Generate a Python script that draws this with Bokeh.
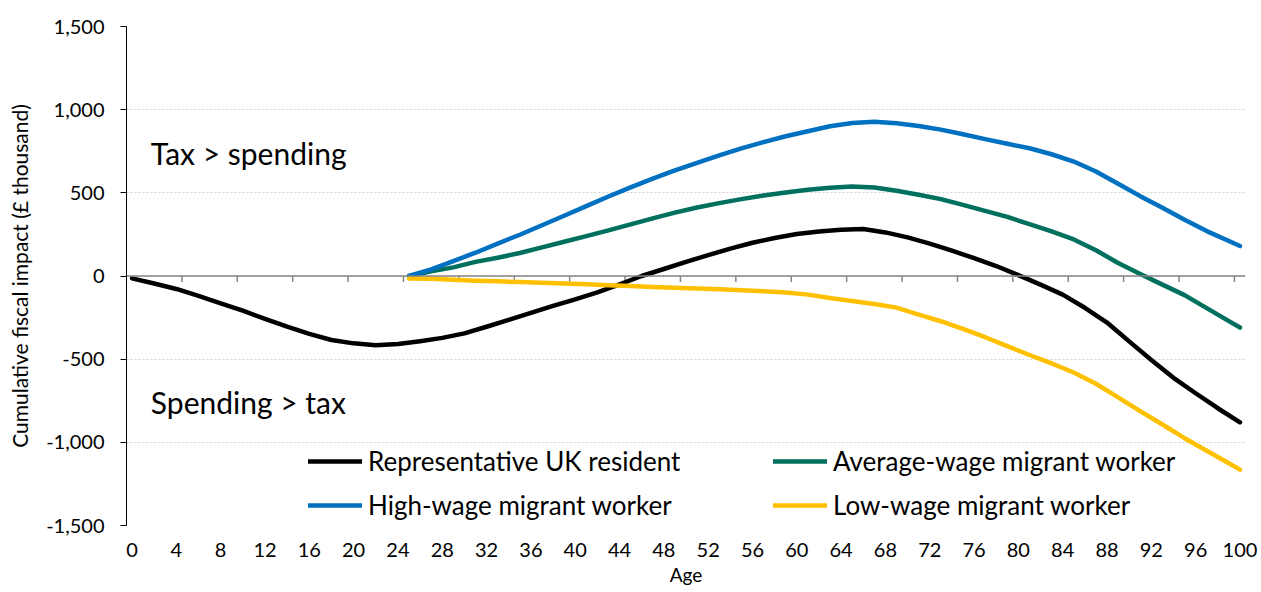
import numpy as np
from bokeh.plotting import figure
from bokeh.models import (Legend, LegendItem, Span, Label, FixedTicker,
                          NumeralTickFormatter, Range1d)
from bokeh.embed import file_html
from bokeh.resources import INLINE

# ---------------- data ----------------
resident_ages = list(range(0, 101, 2))
resident_values = [-14, -45, -78, -120, -165, -208, -258, -305, -348, -385,
                   -405, -416, -409, -392, -372, -345, -305, -264, -222, -180,
                   -140, -98, -50, 0, 42, 85, 125, 165, 200, 228,
                   252, 268, 278, 282, 262, 232, 195, 152, 108, 60,
                   5, -52, -112, -191, -280, -393, -505, -612, -705, -795,
                   -880]

migrant_ages = list(range(25, 100, 2)) + [100]
high_wage = [0, 40, 90, 140, 195, 248, 305, 362, 420, 478,
             533, 585, 635, 680, 725, 767, 805, 840, 870, 900,
             920, 928, 918, 902, 880, 852, 823, 795, 768, 732,
             688, 628, 555, 480, 410, 338, 270, 210, 180]
average_wage = [0, 28, 52, 85, 110, 138, 172, 206, 240, 274,
                310, 346, 381, 412, 438, 462, 484, 502, 518, 530,
                538, 532, 512, 488, 462, 428, 392, 355, 312, 268,
                220, 155, 78, 12, -52, -115, -193, -271, -310]
low_wage = [-15, -17, -22, -28, -32, -36, -40, -45, -50, -55,
            -60, -66, -71, -75, -79, -85, -92, -99, -112, -132,
            -150, -168, -190, -232, -272, -318, -368, -422, -475, -525,
            -580, -648, -730, -812, -893, -975, -1051, -1126, -1164]

x_tick_labels = list(range(0, 101, 4))
y_ticks = [-1500, -1000, -500, 0, 500, 1000, 1500]
category_ticks = list(np.arange(4.5, 100, 5))

series_names = ["Representative UK resident", "Average-wage migrant worker",
                "High-wage migrant worker", "Low-wage migrant worker"]
colors = {"Representative UK resident": "#000000",
          "Average-wage migrant worker": "#00705E",
          "High-wage migrant worker": "#0070C0",
          "Low-wage migrant worker": "#FFC000"}

FONT = "Lato"

p = figure(width=1261, height=592, output_backend="svg", toolbar_location=None,
           x_range=Range1d(-0.5, 100.5), y_range=Range1d(-1500, 1500),
           min_border_left=126, min_border_right=16, min_border_top=26,
           min_border_bottom=67)
p.outline_line_color = None
p.background_fill_color = "white"

# grid
p.xgrid.visible = False
p.ygrid.ticker = FixedTicker(ticks=y_ticks)
p.ygrid.grid_line_color = "#d0d0d0"
p.ygrid.grid_line_dash = "2 2"
p.ygrid.grid_line_width = 1

# y axis
p.yaxis.ticker = FixedTicker(ticks=y_ticks)
p.yaxis.formatter = NumeralTickFormatter(format="0,0")
p.yaxis.axis_line_color = "black"
p.yaxis.major_tick_line_color = "black"
p.yaxis.major_tick_out = 6
p.yaxis.major_tick_in = 0
p.yaxis.minor_tick_line_color = None
p.yaxis.major_label_standoff = 16
p.yaxis.major_label_text_font = FONT
p.yaxis.major_label_text_font_size = "20px"
p.yaxis.major_label_text_color = "black"
p.yaxis.axis_label = "Cumulative fiscal impact (£ thousand)"
p.yaxis.axis_label_text_font = FONT
p.yaxis.axis_label_text_font_size = "21px"
p.yaxis.axis_label_text_font_style = "normal"
p.yaxis.axis_label_text_color = "black"
p.yaxis.axis_label_standoff = 11

# x axis (labels only)
p.xaxis.ticker = FixedTicker(ticks=x_tick_labels)
p.xaxis.axis_line_color = None
p.xaxis.major_tick_out = 0
p.xaxis.major_tick_in = 0
p.xaxis.minor_tick_line_color = None
p.xaxis.major_label_standoff = 17
p.xaxis.major_label_text_font = FONT
p.xaxis.major_label_text_font_size = "20px"
p.xaxis.major_label_text_color = "black"
p.xaxis.axis_label = "Age"
p.xaxis.axis_label_text_font = FONT
p.xaxis.axis_label_text_font_size = "19px"
p.xaxis.axis_label_text_font_style = "normal"
p.xaxis.axis_label_text_color = "black"
p.xaxis.axis_label_standoff = 3

# zero line and its category tick marks
p.add_layout(Span(location=0, dimension="width", line_color="#868686",
                  line_width=1.5))
p.segment(x0=category_ticks, y0=[0] * len(category_ticks),
          x1=category_ticks, y1=[-36] * len(category_ticks),
          line_color="#868686", line_width=1.5)

# series
lw = 4.5
r_res = p.line(resident_ages, resident_values, line_color=colors[series_names[0]],
               line_width=lw, line_join="round", line_cap="round")
r_avg = p.line(migrant_ages, average_wage, line_color=colors[series_names[1]],
               line_width=lw, line_join="round", line_cap="round")
r_high = p.line(migrant_ages, high_wage, line_color=colors[series_names[2]],
                line_width=lw, line_join="round", line_cap="round")
r_low = p.line(migrant_ages, low_wage, line_color=colors[series_names[3]],
               line_width=lw, line_join="round", line_cap="round")

def make_legend(items, loc):
    lg = Legend(items=items, location=loc, orientation="vertical",
                margin=0, padding=0, spacing=12, glyph_width=54,
                glyph_height=24, label_height=24, label_standoff=6,
                label_text_font=FONT, label_text_font_size="26px",
                label_text_color="black", background_fill_alpha=0,
                border_line_color=None)
    return lg

leg1 = make_legend([LegendItem(label=series_names[0], renderers=[r_res]),
                    LegendItem(label=series_names[2], renderers=[r_high])],
                   (182, 4))
leg2 = make_legend([LegendItem(label=series_names[1], renderers=[r_avg]),
                    LegendItem(label=series_names[3], renderers=[r_low])],
                   (647, 4))
p.add_layout(leg1)
p.add_layout(leg2)

# annotations
p.add_layout(Label(x=1.7, y=740, text="Tax > spending", text_font=FONT,
                   text_font_size="30px", text_baseline="middle",
                   text_color="black"))
p.add_layout(Label(x=1.7, y=-757, text="Spending > tax", text_font=FONT,
                   text_font_size="30px", text_baseline="middle",
                   text_color="black"))

open("out.html", "w").write(file_html(p, INLINE))
